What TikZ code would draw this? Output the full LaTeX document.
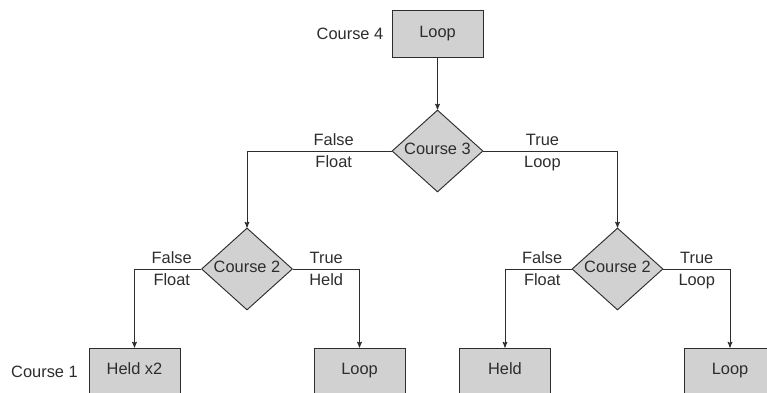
\documentclass[tikz,border=0pt]{standalone}
\usepackage{fontspec}
\setmainfont{Liberation Sans}
\usetikzlibrary{arrows,shapes.geometric}
\definecolor{ink}{RGB}{45,45,45}

\begin{document}
\begin{tikzpicture}[->,>=stealth',thick,draw=ink,text=ink,
                    font=\fontsize{14}{16}\selectfont]
  \tikzstyle{box}=[draw=ink,fill=black!18,rectangle,minimum width=2.73cm,minimum height=1.41cm,
                   text height=1.5ex,text depth=.5ex]
  \tikzstyle{choice}=[draw=ink,fill=black!18,diamond,minimum width=2.73cm,minimum height=2.46cm,inner sep=0pt,
                      text height=1.5ex,text depth=.5ex]
  \tikzstyle{lbl}=[text height=1.6ex,text depth=.4ex,inner sep=2.5pt]
  \tikzstyle{lblb}=[lbl,yshift=-2.5pt]

  \useasboundingbox (0,0) rectangle (23.01,-11.79);

  \node[box]    (loop4) at (13.125,-1.02)                         {Loop};
  \node         (c4)    [left of=loop4,node distance=2.625cm]      {Course 4};
  \node[choice] (c3)    [below of=loop4,node distance=3.51cm]      {Course 3};
  \node[choice] (c2l)   [below of=c3,node distance=3.54cm,xshift=-5.715cm] {Course 2};
  \node[choice] (c2r)   [below of=c3,node distance=3.54cm,xshift=5.4cm]    {Course 2};
  \node[box]    (held2) [below of=c2l,node distance=3.075cm,xshift=-3.375cm] {Held x2};
  \node         (c1)    [left of=held2,node distance=2.7cm]        {Course 1};
  \node[box]    (loopl) [below of=c2l,node distance=3.075cm,xshift=3.375cm]  {Loop};
  \node[box]    (held)  [below of=c2r,node distance=3.075cm,xshift=-3.375cm] {Held};
  \node[box]    (loopr) [below of=c2r,node distance=3.075cm,xshift=3.375cm]  {Loop};

  \draw (loop4) -- (c3);
  \draw (c3.west) -| node[lbl,pos=0.2,above] {False} node[lblb,pos=0.2,below] {Float} (c2l.north);
  \draw (c3.east) -| node[lbl,pos=0.22,above] {True} node[lblb,pos=0.22,below] {Loop} (c2r.north);
  \draw (c2l.west) -| node[lbl,pos=0.22,above] {False} node[lblb,pos=0.22,below] {Float} (held2.north);
  \draw (c2l.east) -| node[lbl,pos=0.25,above] {True} node[lblb,pos=0.25,below] {Held} (loopl.north);
  \draw (c2r.west) -| node[lbl,pos=0.22,above] {False} node[lblb,pos=0.22,below] {Float} (held.north);
  \draw (c2r.east) -| node[lbl,pos=0.25,above] {True} node[lblb,pos=0.25,below] {Loop} (loopr.north);
\end{tikzpicture}
\end{document}
